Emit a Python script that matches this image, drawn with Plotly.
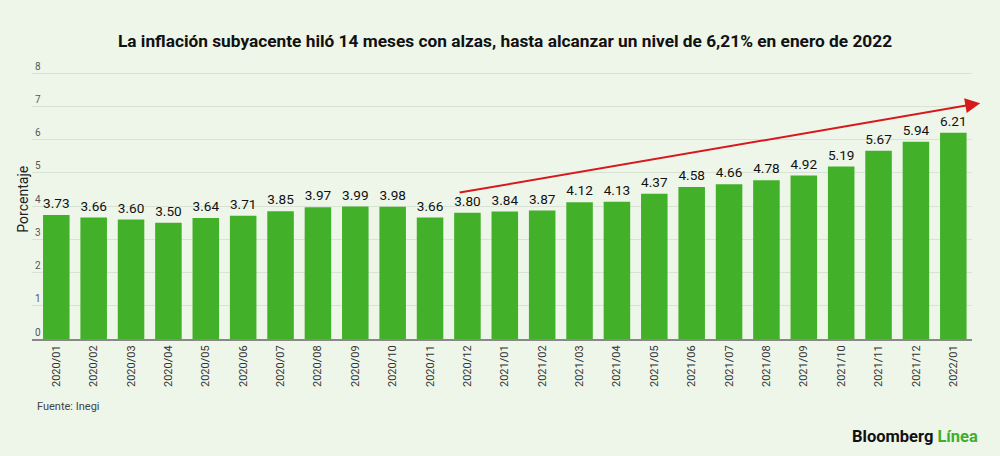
import plotly.graph_objects as go

categories = ["2020/01","2020/02","2020/03","2020/04","2020/05","2020/06","2020/07","2020/08",
              "2020/09","2020/10","2020/11","2020/12","2021/01","2021/02","2021/03","2021/04",
              "2021/05","2021/06","2021/07","2021/08","2021/09","2021/10","2021/11","2021/12","2022/01"]
values = [3.73,3.66,3.60,3.50,3.64,3.71,3.85,3.97,3.99,3.98,3.66,3.80,3.84,3.87,4.12,4.13,
          4.37,4.58,4.66,4.78,4.92,5.19,5.67,5.94,6.21]
y_ticks = [0,1,2,3,4,5,6,7,8]

# trend arrow endpoints (category index, value)
arrow_start = (10.75, 4.40)
arrow_end = (24.72, 7.1)

BG = "#eef6ea"
GREEN = "#43b02a"
FONT = "Roboto"

fig = go.Figure()
fig.add_trace(go.Bar(
    x=list(range(len(categories))), y=values,
    marker=dict(color=GREEN, line=dict(width=0)),
    text=[f"{v:.2f}" for v in values], textposition="outside",
    textfont=dict(family=FONT, size=14.5, color="#111111"),
    cliponaxis=False, width=0.71,
))

fig.add_annotation(
    x=arrow_end[0], y=arrow_end[1], ax=arrow_start[0], ay=arrow_start[1],
    xref="x", yref="y", axref="x", ayref="y",
    showarrow=True, arrowhead=2, arrowsize=1.5, arrowwidth=2, arrowcolor="#d7191c", text="",
)

fig.update_layout(
    width=1000, height=456,
    paper_bgcolor=BG, plot_bgcolor=BG,
    margin=dict(l=32, r=28, t=60, b=117),
    showlegend=False,
    font=dict(family=FONT, color="#333333"),
    title=dict(text="<b>La inflación subyacente hiló 14 meses con alzas, hasta alcanzar un nivel de 6,21% en enero de 2022</b>",
               x=0.505, xanchor="center", y=0.91, yanchor="middle",
               font=dict(family=FONT, size=17.3, color="#111111")),
    xaxis=dict(
        range=[-0.65, 24.5], tickmode="array", tickvals=list(range(len(categories))),
        ticktext=categories, tickangle=-90, tickfont=dict(family=FONT, size=11, color="#333333"),
        showline=True, linecolor="#888888", linewidth=2, showgrid=False, ticks="", fixedrange=True,
    ),
    yaxis=dict(
        range=[0, 8.4], tickmode="array", tickvals=y_ticks, ticktext=[str(t) for t in y_ticks],
        ticklabelposition="inside top", tickfont=dict(family=FONT, size=10, color="#555555"),
        showgrid=True, gridcolor="#d9e3d5", gridwidth=1, zeroline=False, showline=False,
    ),
    bargap=0.29,
)

fig.add_annotation(text="Porcentaje", xref="paper", yref="paper", x=-0.0105, y=0.5,
                   xanchor="center", yanchor="middle", textangle=-90, showarrow=False,
                   font=dict(family=FONT, size=14, color="#222222"))
fig.add_annotation(text="Fuente: Inegi", xref="paper", yref="paper", x=0.003, y=-0.243,
                   xanchor="left", yanchor="middle", showarrow=False,
                   font=dict(family=FONT, size=11, color="#444444"))
fig.add_annotation(text="<b>Bloomberg</b> <b><span style='color:#3fae2a'>Línea</span></b>",
                   xref="paper", yref="paper", x=1.0085, y=-0.35, xanchor="right", yanchor="middle",
                   showarrow=False, font=dict(family=FONT, size=16.5, color="#111111"))

fig.write_html("out.html", config={"displayModeBar": False},
               post_script="document.body.style.margin='0px';document.body.style.background='%s';" % BG)
